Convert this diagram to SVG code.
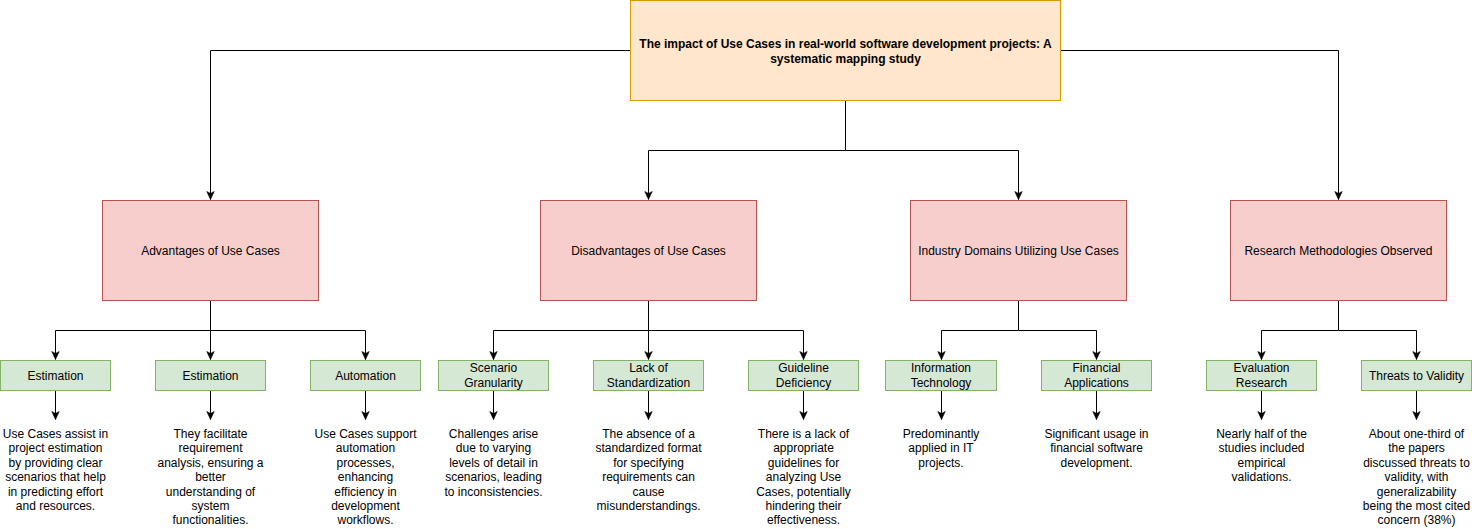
<svg xmlns="http://www.w3.org/2000/svg" width="1472" height="529" viewBox="0 0 1472 529">
<style>
text{font-family:"Liberation Sans",Arial,Helvetica,sans-serif;font-size:12px;fill:#000;text-anchor:middle}
.root{fill:#ffe6cc;stroke:#d79b00;stroke-width:1}
.cat{fill:#f8cecc;stroke:#b85450;stroke-width:1}
.leaf{fill:#d5e8d4;stroke:#82b366;stroke-width:1}
.b{font-weight:bold}
.c{fill:none;stroke:#000;stroke-width:1;marker-end:url(#arr)}
</style>
<defs>
<marker id="arr" markerUnits="userSpaceOnUse" markerWidth="12" markerHeight="10" refX="9" refY="4.5" orient="auto">
<path d="M1,0.8 L9,4.5 L1,8.2 L3,4.5 Z" fill="#000" stroke="#000" stroke-width="0.6"/>
</marker>
</defs>
<g id="connectors">
<path class="c" d="M630.5,50.5 H210.5 V199.5"/>
<path class="c" d="M1060.5,50.5 H1338.5 V199.5"/>
<path class="c" d="M845.5,100.5 V150.5 H648.5 V199.5"/>
<path class="c" d="M845.5,100.5 V150.5 H1018.5 V199.5"/>
<path class="c" d="M210.5,300.5 V330.5 H55.5 V359.5"/>
<path class="c" d="M210.5,300.5 V359.5"/>
<path class="c" d="M210.5,300.5 V330.5 H365.5 V359.5"/>
<path class="c" d="M648.5,300.5 V330.5 H493.5 V359.5"/>
<path class="c" d="M648.5,300.5 V359.5"/>
<path class="c" d="M648.5,300.5 V330.5 H803.5 V359.5"/>
<path class="c" d="M1018.5,300.5 V330.5 H941.5 V359.5"/>
<path class="c" d="M1018.5,300.5 V330.5 H1096.5 V359.5"/>
<path class="c" d="M1338.5,300.5 V330.5 H1261.5 V359.5"/>
<path class="c" d="M1338.5,300.5 V330.5 H1416.5 V359.5"/>
<path class="c" d="M55.5,390.5 V419.5"/>
<path class="c" d="M210.5,390.5 V419.5"/>
<path class="c" d="M365.5,390.5 V419.5"/>
<path class="c" d="M493.5,390.5 V419.5"/>
<path class="c" d="M648.5,390.5 V419.5"/>
<path class="c" d="M803.5,390.5 V419.5"/>
<path class="c" d="M941.5,390.5 V419.5"/>
<path class="c" d="M1096.5,390.5 V419.5"/>
<path class="c" d="M1261.5,390.5 V419.5"/>
<path class="c" d="M1416.5,390.5 V419.5"/>
</g>
<g id="root">
<rect class="root" x="630.5" y="0.5" width="430" height="100"/>
<text class="b" x="845.5" y="48">The impact of Use Cases in real-world software development projects: A</text>
<text class="b" x="845.5" y="62.5">systematic mapping study</text>
</g>
<g id="advantages"><rect class="cat" x="102.5" y="200.5" width="216" height="100"/><text x="210.5" y="254.5">Advantages of Use Cases</text></g>
<g id="disadvantages"><rect class="cat" x="540.5" y="200.5" width="216" height="100"/><text x="648.5" y="254.5">Disadvantages of Use Cases</text></g>
<g id="industry"><rect class="cat" x="910.5" y="200.5" width="216" height="100"/><text x="1018.5" y="254.5">Industry Domains Utilizing Use Cases</text></g>
<g id="research"><rect class="cat" x="1230.5" y="200.5" width="216" height="100"/><text x="1338.5" y="254.5">Research Methodologies Observed</text></g>

<g id="estimation1"><rect class="leaf" x="0.5" y="360.5" width="110" height="30"/><text x="55.5" y="379.5">Estimation</text></g>
<g id="estimation2"><rect class="leaf" x="155.5" y="360.5" width="110" height="30"/><text x="210.5" y="379.5">Estimation</text></g>
<g id="automation"><rect class="leaf" x="310.5" y="360.5" width="110" height="30"/><text x="365.5" y="379.5">Automation</text></g>
<g id="scenario"><rect class="leaf" x="438.5" y="360.5" width="110" height="30"/><text x="493.5" y="372">Scenario</text><text x="493.5" y="386.5">Granularity</text></g>
<g id="lack"><rect class="leaf" x="593.5" y="360.5" width="110" height="30"/><text x="648.5" y="372">Lack of</text><text x="648.5" y="386.5">Standardization</text></g>
<g id="guideline"><rect class="leaf" x="748.5" y="360.5" width="110" height="30"/><text x="803.5" y="372">Guideline</text><text x="803.5" y="386.5">Deficiency</text></g>
<g id="infotech"><rect class="leaf" x="885.5" y="360.5" width="111" height="30"/><text x="941" y="372">Information</text><text x="941" y="386.5">Technology</text></g>
<g id="financial"><rect class="leaf" x="1041.5" y="360.5" width="110" height="30"/><text x="1096.5" y="372">Financial</text><text x="1096.5" y="386.5">Applications</text></g>
<g id="evaluation"><rect class="leaf" x="1206.5" y="360.5" width="110" height="30"/><text x="1261.5" y="372">Evaluation</text><text x="1261.5" y="386.5">Research</text></g>
<g id="threats"><rect class="leaf" x="1361.5" y="360.5" width="110" height="30"/><text x="1416.5" y="379.5">Threats to Validity</text></g>

<g id="desc1"><text x="55.5" y="438"><tspan x="55.5" dy="0">Use Cases assist in</tspan><tspan x="55.5" dy="14.4">project estimation</tspan><tspan x="55.5" dy="14.4">by providing clear</tspan><tspan x="55.5" dy="14.4">scenarios that help</tspan><tspan x="55.5" dy="14.4">in predicting effort</tspan><tspan x="55.5" dy="14.4">and resources.</tspan></text></g>
<g id="desc2"><text x="210.5" y="438"><tspan x="210.5" dy="0">They facilitate</tspan><tspan x="210.5" dy="14.4">requirement</tspan><tspan x="210.5" dy="14.4">analysis, ensuring a</tspan><tspan x="210.5" dy="14.4">better</tspan><tspan x="210.5" dy="14.4">understanding of</tspan><tspan x="210.5" dy="14.4">system</tspan><tspan x="210.5" dy="14.4">functionalities.</tspan></text></g>
<g id="desc3"><text x="365.5" y="438"><tspan x="365.5" dy="0">Use Cases support</tspan><tspan x="365.5" dy="14.4">automation</tspan><tspan x="365.5" dy="14.4">processes,</tspan><tspan x="365.5" dy="14.4">enhancing</tspan><tspan x="365.5" dy="14.4">efficiency in</tspan><tspan x="365.5" dy="14.4">development</tspan><tspan x="365.5" dy="14.4">workflows.</tspan></text></g>
<g id="desc4"><text x="493.5" y="438"><tspan x="493.5" dy="0">Challenges arise</tspan><tspan x="493.5" dy="14.4">due to varying</tspan><tspan x="493.5" dy="14.4">levels of detail in</tspan><tspan x="493.5" dy="14.4">scenarios, leading</tspan><tspan x="493.5" dy="14.4">to inconsistencies.</tspan></text></g>
<g id="desc5"><text x="648.5" y="438"><tspan x="648.5" dy="0">The absence of a</tspan><tspan x="648.5" dy="14.4">standardized format</tspan><tspan x="648.5" dy="14.4">for specifying</tspan><tspan x="648.5" dy="14.4">requirements can</tspan><tspan x="648.5" dy="14.4">cause</tspan><tspan x="648.5" dy="14.4">misunderstandings.</tspan></text></g>
<g id="desc6"><text x="803.5" y="438"><tspan x="803.5" dy="0">There is a lack of</tspan><tspan x="803.5" dy="14.4">appropriate</tspan><tspan x="803.5" dy="14.4">guidelines for</tspan><tspan x="803.5" dy="14.4">analyzing Use</tspan><tspan x="803.5" dy="14.4">Cases, potentially</tspan><tspan x="803.5" dy="14.4">hindering their</tspan><tspan x="803.5" dy="14.4">effectiveness.</tspan></text></g>
<g id="desc7"><text x="941" y="438"><tspan x="941" dy="0">Predominantly</tspan><tspan x="941" dy="14.4">applied in IT</tspan><tspan x="941" dy="14.4">projects.</tspan></text></g>
<g id="desc8"><text x="1096.5" y="438"><tspan x="1096.5" dy="0">Significant usage in</tspan><tspan x="1096.5" dy="14.4">financial software</tspan><tspan x="1096.5" dy="14.4">development.</tspan></text></g>
<g id="desc9"><text x="1261.5" y="438"><tspan x="1261.5" dy="0">Nearly half of the</tspan><tspan x="1261.5" dy="14.4">studies included</tspan><tspan x="1261.5" dy="14.4">empirical</tspan><tspan x="1261.5" dy="14.4">validations.</tspan></text></g>
<g id="desc10"><text x="1416.5" y="438"><tspan x="1416.5" dy="0">About one-third of</tspan><tspan x="1416.5" dy="14.4">the papers</tspan><tspan x="1416.5" dy="14.4">discussed threats to</tspan><tspan x="1416.5" dy="14.4">validity, with</tspan><tspan x="1416.5" dy="14.4">generalizability</tspan><tspan x="1416.5" dy="14.4">being the most cited</tspan><tspan x="1416.5" dy="14.4">concern (38%)</tspan></text></g>
</svg>
